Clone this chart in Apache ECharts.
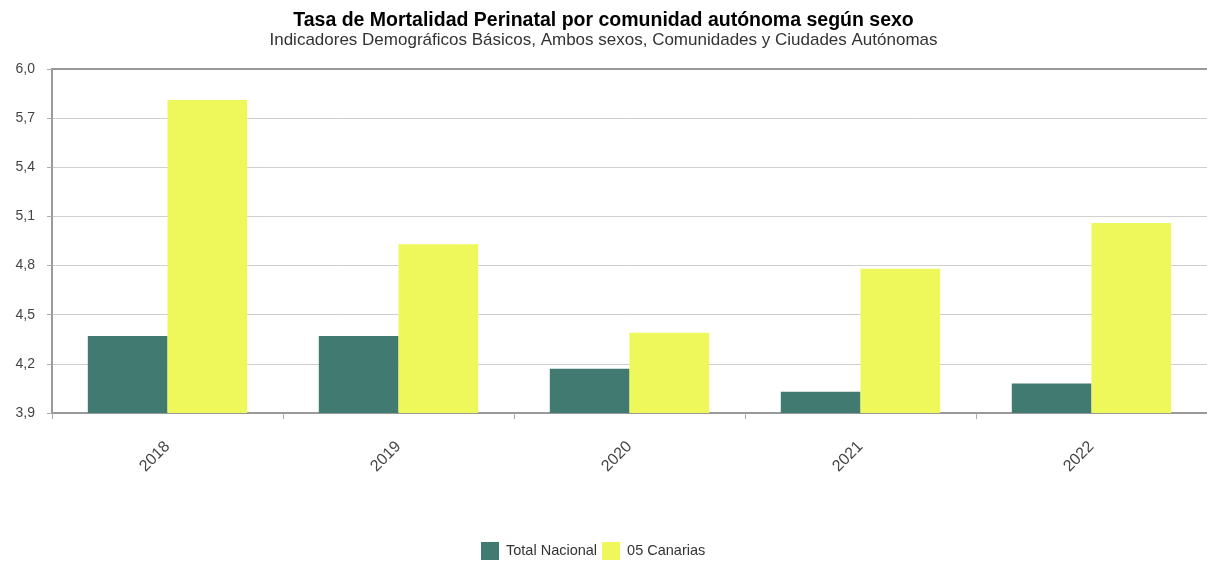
<!DOCTYPE html>
<html>
<head>
<meta charset="utf-8">
<script src="https://cdn.jsdelivr.net/npm/echarts@6/dist/echarts.min.js"></script>
<style>
  html, body { margin: 0; padding: 0; background: #fff; }
  #chart { width: 1207px; height: 566px; }
</style>
</head>
<body>
<div id="chart"></div>
<script>
// Years on the category axis
const years = ['2018', '2019', '2020', '2021', '2022'];
// Perinatal mortality rate, both sexes
const totalNacional = [4.37, 4.37, 4.17, 4.03, 4.08];
const canarias = [5.81, 4.93, 4.39, 4.78, 5.06];
const seriesNames = ['Total Nacional', '05 Canarias'];

const titleText = 'Tasa de Mortalidad Perinatal por comunidad autónoma según sexo';
const subtitleText = 'Indicadores Demográficos Básicos, Ambos sexos, Comunidades y Ciudades Autónomas';

const chart = echarts.init(document.getElementById('chart'), null, { renderer: 'canvas' });

const fmt = v => v.toFixed(1).replace('.', ',');

chart.setOption({
  animation: false,
  backgroundColor: '#ffffff',
  textStyle: { fontFamily: 'Liberation Sans, Arial, sans-serif' },
  title: {
    text: titleText,
    subtext: subtitleText,
    left: 'center',
    top: 6,
    itemGap: 1,
    textStyle: { fontSize: 19.5, fontWeight: 'bold', color: '#000' },
    subtextStyle: { fontSize: 17, color: '#333' }
  },
  legend: {
    data: seriesNames,
    bottom: 1,
    left: 476,
    itemWidth: 18,
    itemHeight: 18,
    itemGap: 5,
    icon: 'rect',
    textStyle: { fontSize: 14.5, color: '#333', padding: [0, 0, 0, 2] }
  },
  grid: { left: 52, right: 0, top: 69, bottom: 153 },
  xAxis: [{
    type: 'category',
    data: years,
    axisLine: { lineStyle: { color: '#999', width: 2 } },
    axisTick: { show: true, length: 6, lineStyle: { color: '#aaa' } },
    axisLabel: { rotate: 45, margin: 31, fontSize: 16, color: '#444' }
  }, {
    type: 'category',
    data: years,
    position: 'top',
    axisLine: { lineStyle: { color: '#999', width: 2 } },
    axisTick: { show: false },
    axisLabel: { show: false }
  }],
  yAxis: {
    type: 'value',
    min: 3.9,
    max: 6.0,
    interval: 0.3,
    axisLine: { show: true, lineStyle: { color: '#999', width: 2 } },
    axisTick: { show: true, length: 5, lineStyle: { color: '#aaa' } },
    axisLabel: { formatter: fmt, fontSize: 14, color: '#444', margin: 17 },
    splitLine: { lineStyle: { color: '#cfcfcf', width: 1 } }
  },
  series: [{
    name: seriesNames[0],
    type: 'bar',
    data: totalNacional,
    barGap: '0%',
    barCategoryGap: '31%',
    itemStyle: { color: '#417a71' }
  }, {
    name: seriesNames[1],
    type: 'bar',
    data: canarias,
    barGap: '0%',
    barCategoryGap: '31%',
    itemStyle: { color: '#eef85b' }
  }]
});
</script>
</body>
</html>
